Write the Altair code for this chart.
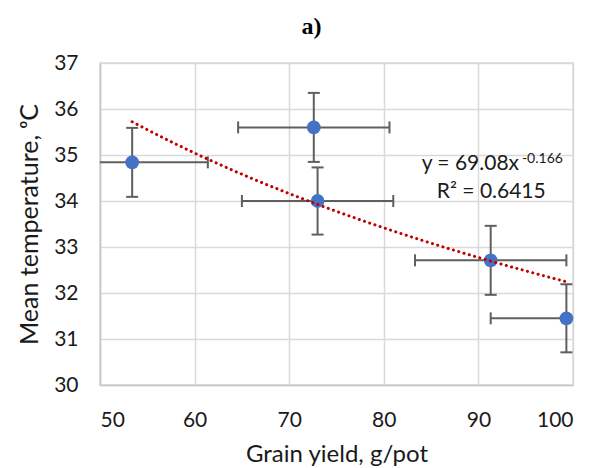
import altair as alt
import pandas as pd

# Data
grain_yield = [53.4, 72.6, 73.0, 91.3, 99.3]
mean_temp = [34.84, 35.60, 34.00, 32.71, 31.45]
x_err = [8.0, 8.0, 8.0, 8.0, 8.0]
y_err = [0.75, 0.75, 0.73, 0.75, 0.74]

x_ticks = [50, 60, 70, 80, 90, 100]
y_ticks = [30, 31, 32, 33, 34, 35, 36, 37]

eq_main = "y = 69.08x"
eq_exp = "-0.166"
eq_r2 = "R² = 0.6415"

df = pd.DataFrame({
    "x": grain_yield,
    "y": mean_temp,
    "xlo": [a - b for a, b in zip(grain_yield, x_err)],
    "xhi": [a + b for a, b in zip(grain_yield, x_err)],
    "ylo": [a - b for a, b in zip(mean_temp, y_err)],
    "yhi": [a + b for a, b in zip(mean_temp, y_err)],
})

xscale = alt.Scale(domain=[50, 100], nice=False, zero=False)
yscale = alt.Scale(domain=[30, 37], nice=False, zero=False)

FONT = "Lato"
TXT = "#1a1a1a"
ERR = "#5f5f5f"

base = alt.Chart(df)

xax = alt.X("x:Q", scale=xscale,
            axis=alt.Axis(title="Grain yield, g/pot", values=x_ticks, format="d"))
yax = alt.Y("y:Q", scale=yscale,
            axis=alt.Axis(title="Mean temperature, ᵒC", values=y_ticks, format="d"))

hbar = base.mark_rule(clip=True, color=ERR, strokeWidth=2).encode(
    x=alt.X("xlo:Q", scale=xscale), x2="xhi:Q", y=alt.Y("y:Q", scale=yscale))
vbar = base.mark_rule(clip=True, color=ERR, strokeWidth=2).encode(
    x=alt.X("x:Q", scale=xscale), y=alt.Y("ylo:Q", scale=yscale), y2="yhi:Q")
cap_l = base.mark_tick(clip=True, color=ERR, orient="vertical", size=12, thickness=2, opacity=1).encode(
    x=alt.X("xlo:Q", scale=xscale), y=alt.Y("y:Q", scale=yscale))
cap_r = base.mark_tick(clip=True, color=ERR, orient="vertical", size=12, thickness=2, opacity=1).encode(
    x=alt.X("xhi:Q", scale=xscale), y=alt.Y("y:Q", scale=yscale))
cap_b = base.mark_tick(clip=True, color=ERR, orient="horizontal", size=12, thickness=2, opacity=1).encode(
    x=alt.X("x:Q", scale=xscale), y=alt.Y("ylo:Q", scale=yscale))
cap_t = base.mark_tick(clip=True, color=ERR, orient="horizontal", size=12, thickness=2, opacity=1).encode(
    x=alt.X("x:Q", scale=xscale), y=alt.Y("yhi:Q", scale=yscale))

points = base.mark_point(filled=True, color="#4472C4", size=190, opacity=1).encode(x=xax, y=yax)

trend = base.transform_regression("x", "y", method="pow").mark_line(
    color="#C00000", strokeWidth=3, strokeDash=[0.1, 5.4], strokeCap="round", clip=True
).encode(x=alt.X("x:Q", scale=xscale), y=alt.Y("y:Q", scale=yscale))

ann = pd.DataFrame({
    "tx": [84.0, 85.6],
    "ty": [34.80, 34.19],
    "label": [eq_main, eq_r2],
})
ann_text = alt.Chart(ann).mark_text(
    align="left", baseline="middle", font=FONT, fontSize=21, color=TXT
).encode(x=alt.X("tx:Q", scale=xscale), y=alt.Y("ty:Q", scale=yscale), text="label:N")

sup = pd.DataFrame({"tx": [94.6], "ty": [34.91], "label": [eq_exp]})
sup_text = alt.Chart(sup).mark_text(
    align="left", baseline="middle", font=FONT, fontSize=14, color=TXT
).encode(x=alt.X("tx:Q", scale=xscale), y=alt.Y("ty:Q", scale=yscale), text="label:N")

chart = alt.layer(
    hbar, vbar, cap_l, cap_r, cap_b, cap_t, points, trend, ann_text, sup_text
).properties(
    width=473,
    height=322,
    background="white",
    title=alt.TitleParams("a)", font="Liberation Serif", fontSize=24, fontWeight="bold",
                          color="#000000", anchor="middle", dx=-25, offset=13),
    autosize=alt.AutoSizeParams(type="none"),
    padding={"left": 100, "top": 63, "right": 19, "bottom": 83},
).configure_view(
    stroke="#D9D9D9", strokeWidth=1.5
).configure_axis(
    grid=True, gridColor="#D9D9D9", gridWidth=1.5,
    domain=True, domainColor="#C8C8C8", domainWidth=1.5,
    ticks=False,
    labelFont=FONT, labelFontSize=21, labelColor=TXT,
    titleFont=FONT, titleFontSize=25, titleColor=TXT, titleFontWeight="normal",
).configure_axisX(
    labelPadding=24, titlePadding=12, titleFontSize=24
).configure_axisY(
    labelPadding=22, titlePadding=11
)

chart.save("out.html", embed_options={"renderer": "svg", "actions": False})
